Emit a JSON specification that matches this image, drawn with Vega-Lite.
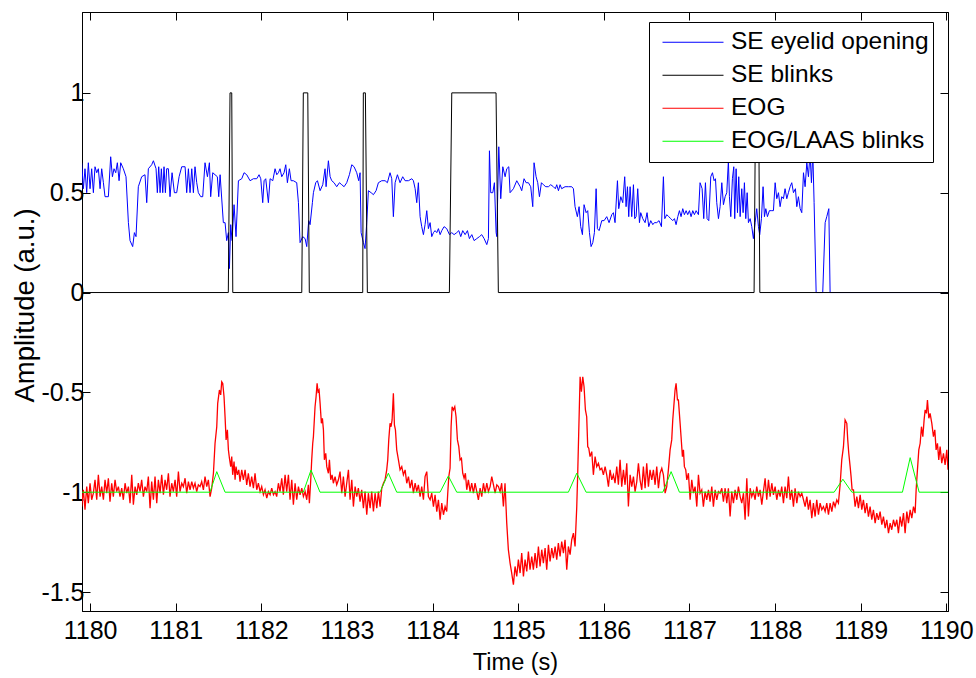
{
"$schema":"https://vega.github.io/schema/vega-lite/v6.json",
"width":866,"height":599,
"autosize":{"type":"none"},
"padding":{"left":82,"top":12,"right":28,"bottom":67},
"background":"white",
"config":{
"view":{"stroke":"black","strokeWidth":1},
"font":"Liberation Sans",
"axis":{"grid":false,"domainColor":"black","tickColor":"black","labelColor":"black","titleColor":"black","labelFont":"Liberation Sans","titleFont":"Liberation Sans","labelFontSize":25,"titleFontSize":24,"titleFontWeight":"normal","tickSize":-8,"tickWidth":1,"domainWidth":1,"labelFlush":false,"labelOverlap":false}
},
"datasets":{
"blue":[{"t":1179.901,"v":0.65},{"t":1179.921,"v":0.52},{"t":1179.94,"v":0.62},{"t":1179.96,"v":0.5},{"t":1179.979,"v":0.65},{"t":1179.999,"v":0.52},{"t":1180.018,"v":0.62},{"t":1180.038,"v":0.5},{"t":1180.057,"v":0.63},{"t":1180.077,"v":0.6},{"t":1180.096,"v":0.62},{"t":1180.116,"v":0.52},{"t":1180.135,"v":0.62},{"t":1180.155,"v":0.55},{"t":1180.174,"v":0.48},{"t":1180.213,"v":0.48},{"t":1180.24,"v":0.68},{"t":1180.26,"v":0.58},{"t":1180.279,"v":0.62},{"t":1180.299,"v":0.6},{"t":1180.318,"v":0.65},{"t":1180.338,"v":0.56},{"t":1180.357,"v":0.65},{"t":1180.388,"v":0.62},{"t":1180.419,"v":0.58},{"t":1180.447,"v":0.35},{"t":1180.466,"v":0.26},{"t":1180.497,"v":0.23},{"t":1180.517,"v":0.3},{"t":1180.536,"v":0.28},{"t":1180.563,"v":0.53},{"t":1180.602,"v":0.58},{"t":1180.641,"v":0.59},{"t":1180.661,"v":0.45},{"t":1180.68,"v":0.62},{"t":1180.719,"v":0.64},{"t":1180.739,"v":0.66},{"t":1180.77,"v":0.62},{"t":1180.785,"v":0.5},{"t":1180.801,"v":0.63},{"t":1180.817,"v":0.5},{"t":1180.832,"v":0.62},{"t":1180.848,"v":0.5},{"t":1180.863,"v":0.63},{"t":1180.879,"v":0.5},{"t":1180.894,"v":0.62},{"t":1180.914,"v":0.62},{"t":1180.933,"v":0.48},{"t":1180.957,"v":0.6},{"t":1180.984,"v":0.5},{"t":1181.011,"v":0.5},{"t":1181.039,"v":0.58},{"t":1181.07,"v":0.63},{"t":1181.109,"v":0.63},{"t":1181.128,"v":0.5},{"t":1181.148,"v":0.62},{"t":1181.167,"v":0.5},{"t":1181.187,"v":0.62},{"t":1181.206,"v":0.5},{"t":1181.225,"v":0.63},{"t":1181.245,"v":0.55},{"t":1181.264,"v":0.5},{"t":1181.292,"v":0.48},{"t":1181.315,"v":0.48},{"t":1181.342,"v":0.65},{"t":1181.37,"v":0.58},{"t":1181.393,"v":0.65},{"t":1181.408,"v":0.48},{"t":1181.432,"v":0.6},{"t":1181.459,"v":0.59},{"t":1181.486,"v":0.58},{"t":1181.502,"v":0.48},{"t":1181.518,"v":0.59},{"t":1181.556,"v":0.35},{"t":1181.576,"v":0.35},{"t":1181.595,"v":0.26},{"t":1181.615,"v":0.3},{"t":1181.627,"v":0.12},{"t":1181.642,"v":0.34},{"t":1181.658,"v":0.26},{"t":1181.681,"v":0.44},{"t":1181.704,"v":0.28},{"t":1181.732,"v":0.56},{"t":1181.771,"v":0.57},{"t":1181.798,"v":0.6},{"t":1181.829,"v":0.59},{"t":1181.868,"v":0.56},{"t":1181.907,"v":0.57},{"t":1181.946,"v":0.57},{"t":1181.973,"v":0.59},{"t":1181.993,"v":0.57},{"t":1182.016,"v":0.45},{"t":1182.032,"v":0.56},{"t":1182.051,"v":0.57},{"t":1182.082,"v":0.45},{"t":1182.102,"v":0.57},{"t":1182.133,"v":0.56},{"t":1182.16,"v":0.62},{"t":1182.18,"v":0.59},{"t":1182.199,"v":0.6},{"t":1182.218,"v":0.62},{"t":1182.238,"v":0.58},{"t":1182.265,"v":0.6},{"t":1182.285,"v":0.64},{"t":1182.304,"v":0.55},{"t":1182.327,"v":0.62},{"t":1182.347,"v":0.56},{"t":1182.374,"v":0.56},{"t":1182.413,"v":0.55},{"t":1182.433,"v":0.45},{"t":1182.452,"v":0.25},{"t":1182.483,"v":0.28},{"t":1182.511,"v":0.27},{"t":1182.53,"v":0.23},{"t":1182.553,"v":0.36},{"t":1182.569,"v":0.34},{"t":1182.596,"v":0.45},{"t":1182.608,"v":0.5},{"t":1182.635,"v":0.55},{"t":1182.655,"v":0.56},{"t":1182.686,"v":0.51},{"t":1182.717,"v":0.54},{"t":1182.744,"v":0.62},{"t":1182.756,"v":0.53},{"t":1182.783,"v":0.66},{"t":1182.803,"v":0.58},{"t":1182.822,"v":0.56},{"t":1182.849,"v":0.55},{"t":1182.88,"v":0.53},{"t":1182.912,"v":0.55},{"t":1182.939,"v":0.54},{"t":1182.966,"v":0.53},{"t":1182.997,"v":0.55},{"t":1183.028,"v":0.59},{"t":1183.056,"v":0.64},{"t":1183.083,"v":0.63},{"t":1183.114,"v":0.6},{"t":1183.137,"v":0.56},{"t":1183.153,"v":0.6},{"t":1183.165,"v":0.3},{"t":1183.192,"v":0.25},{"t":1183.211,"v":0.22},{"t":1183.231,"v":0.35},{"t":1183.25,"v":0.51},{"t":1183.282,"v":0.5},{"t":1183.309,"v":0.49},{"t":1183.34,"v":0.51},{"t":1183.367,"v":0.55},{"t":1183.406,"v":0.56},{"t":1183.445,"v":0.56},{"t":1183.472,"v":0.55},{"t":1183.503,"v":0.6},{"t":1183.523,"v":0.57},{"t":1183.542,"v":0.38},{"t":1183.562,"v":0.55},{"t":1183.589,"v":0.59},{"t":1183.62,"v":0.55},{"t":1183.651,"v":0.58},{"t":1183.679,"v":0.56},{"t":1183.718,"v":0.56},{"t":1183.757,"v":0.57},{"t":1183.776,"v":0.56},{"t":1183.796,"v":0.52},{"t":1183.815,"v":0.45},{"t":1183.834,"v":0.55},{"t":1183.854,"v":0.38},{"t":1183.873,"v":0.33},{"t":1183.893,"v":0.29},{"t":1183.912,"v":0.34},{"t":1183.932,"v":0.41},{"t":1183.951,"v":0.32},{"t":1183.971,"v":0.35},{"t":1183.99,"v":0.28},{"t":1184.01,"v":0.3},{"t":1184.029,"v":0.31},{"t":1184.049,"v":0.3},{"t":1184.068,"v":0.32},{"t":1184.088,"v":0.29},{"t":1184.107,"v":0.31},{"t":1184.134,"v":0.33},{"t":1184.165,"v":0.32},{"t":1184.197,"v":0.29},{"t":1184.224,"v":0.3},{"t":1184.251,"v":0.29},{"t":1184.282,"v":0.3},{"t":1184.306,"v":0.31},{"t":1184.329,"v":0.28},{"t":1184.352,"v":0.31},{"t":1184.38,"v":0.29},{"t":1184.407,"v":0.31},{"t":1184.43,"v":0.27},{"t":1184.458,"v":0.29},{"t":1184.485,"v":0.26},{"t":1184.516,"v":0.27},{"t":1184.547,"v":0.28},{"t":1184.574,"v":0.29},{"t":1184.602,"v":0.27},{"t":1184.633,"v":0.24},{"t":1184.652,"v":0.27},{"t":1184.664,"v":0.71},{"t":1184.679,"v":0.5},{"t":1184.703,"v":0.5},{"t":1184.722,"v":0.55},{"t":1184.742,"v":0.3},{"t":1184.75,"v":0.28},{"t":1184.773,"v":0.73},{"t":1184.796,"v":0.47},{"t":1184.82,"v":0.63},{"t":1184.847,"v":0.58},{"t":1184.866,"v":0.62},{"t":1184.89,"v":0.63},{"t":1184.905,"v":0.5},{"t":1184.944,"v":0.52},{"t":1184.983,"v":0.56},{"t":1185.022,"v":0.53},{"t":1185.041,"v":0.51},{"t":1185.068,"v":0.57},{"t":1185.092,"v":0.55},{"t":1185.119,"v":0.55},{"t":1185.146,"v":0.53},{"t":1185.17,"v":0.43},{"t":1185.185,"v":0.65},{"t":1185.209,"v":0.58},{"t":1185.228,"v":0.55},{"t":1185.248,"v":0.48},{"t":1185.271,"v":0.55},{"t":1185.294,"v":0.54},{"t":1185.322,"v":0.53},{"t":1185.353,"v":0.53},{"t":1185.38,"v":0.54},{"t":1185.411,"v":0.53},{"t":1185.434,"v":0.52},{"t":1185.45,"v":0.54},{"t":1185.47,"v":0.51},{"t":1185.489,"v":0.54},{"t":1185.508,"v":0.52},{"t":1185.547,"v":0.53},{"t":1185.586,"v":0.53},{"t":1185.625,"v":0.53},{"t":1185.645,"v":0.52},{"t":1185.664,"v":0.43},{"t":1185.691,"v":0.38},{"t":1185.711,"v":0.43},{"t":1185.73,"v":0.33},{"t":1185.75,"v":0.29},{"t":1185.769,"v":0.44},{"t":1185.793,"v":0.4},{"t":1185.812,"v":0.41},{"t":1185.832,"v":0.3},{"t":1185.851,"v":0.23},{"t":1185.871,"v":0.25},{"t":1185.89,"v":0.3},{"t":1185.91,"v":0.52},{"t":1185.925,"v":0.32},{"t":1185.945,"v":0.31},{"t":1185.976,"v":0.36},{"t":1186.003,"v":0.36},{"t":1186.034,"v":0.38},{"t":1186.061,"v":0.35},{"t":1186.093,"v":0.39},{"t":1186.112,"v":0.4},{"t":1186.131,"v":0.35},{"t":1186.159,"v":0.56},{"t":1186.174,"v":0.42},{"t":1186.198,"v":0.48},{"t":1186.221,"v":0.45},{"t":1186.244,"v":0.58},{"t":1186.26,"v":0.43},{"t":1186.276,"v":0.53},{"t":1186.291,"v":0.38},{"t":1186.307,"v":0.53},{"t":1186.326,"v":0.38},{"t":1186.346,"v":0.54},{"t":1186.361,"v":0.37},{"t":1186.377,"v":0.38},{"t":1186.396,"v":0.52},{"t":1186.416,"v":0.35},{"t":1186.431,"v":0.4},{"t":1186.455,"v":0.37},{"t":1186.482,"v":0.35},{"t":1186.505,"v":0.4},{"t":1186.525,"v":0.33},{"t":1186.548,"v":0.36},{"t":1186.572,"v":0.34},{"t":1186.591,"v":0.35},{"t":1186.618,"v":0.35},{"t":1186.645,"v":0.36},{"t":1186.673,"v":0.33},{"t":1186.696,"v":0.58},{"t":1186.712,"v":0.37},{"t":1186.735,"v":0.39},{"t":1186.758,"v":0.38},{"t":1186.782,"v":0.37},{"t":1186.805,"v":0.36},{"t":1186.825,"v":0.37},{"t":1186.844,"v":0.34},{"t":1186.864,"v":0.38},{"t":1186.883,"v":0.41},{"t":1186.902,"v":0.38},{"t":1186.922,"v":0.42},{"t":1186.941,"v":0.39},{"t":1186.961,"v":0.41},{"t":1186.98,"v":0.39},{"t":1187.0,"v":0.41},{"t":1187.019,"v":0.38},{"t":1187.039,"v":0.41},{"t":1187.058,"v":0.39},{"t":1187.078,"v":0.41},{"t":1187.105,"v":0.39},{"t":1187.124,"v":0.55},{"t":1187.148,"v":0.52},{"t":1187.167,"v":0.37},{"t":1187.187,"v":0.55},{"t":1187.206,"v":0.37},{"t":1187.226,"v":0.36},{"t":1187.249,"v":0.58},{"t":1187.269,"v":0.6},{"t":1187.288,"v":0.56},{"t":1187.304,"v":0.57},{"t":1187.319,"v":0.45},{"t":1187.339,"v":0.37},{"t":1187.358,"v":0.43},{"t":1187.378,"v":0.55},{"t":1187.397,"v":0.44},{"t":1187.417,"v":0.48},{"t":1187.436,"v":0.5},{"t":1187.455,"v":0.66},{"t":1187.467,"v":0.48},{"t":1187.483,"v":0.38},{"t":1187.502,"v":0.57},{"t":1187.518,"v":0.63},{"t":1187.529,"v":0.37},{"t":1187.545,"v":0.62},{"t":1187.561,"v":0.4},{"t":1187.576,"v":0.58},{"t":1187.592,"v":0.38},{"t":1187.611,"v":0.52},{"t":1187.627,"v":0.4},{"t":1187.642,"v":0.55},{"t":1187.658,"v":0.37},{"t":1187.674,"v":0.5},{"t":1187.689,"v":0.35},{"t":1187.709,"v":0.37},{"t":1187.728,"v":0.33},{"t":1187.747,"v":0.27},{"t":1187.767,"v":0.35},{"t":1187.786,"v":0.42},{"t":1187.806,"v":0.33},{"t":1187.821,"v":0.29},{"t":1187.841,"v":0.37},{"t":1187.86,"v":0.53},{"t":1187.876,"v":0.38},{"t":1187.892,"v":0.42},{"t":1187.911,"v":0.38},{"t":1187.934,"v":0.41},{"t":1187.962,"v":0.41},{"t":1187.981,"v":0.41},{"t":1188.001,"v":0.55},{"t":1188.02,"v":0.47},{"t":1188.04,"v":0.5},{"t":1188.059,"v":0.43},{"t":1188.078,"v":0.48},{"t":1188.098,"v":0.47},{"t":1188.117,"v":0.52},{"t":1188.137,"v":0.47},{"t":1188.156,"v":0.5},{"t":1188.176,"v":0.53},{"t":1188.195,"v":0.55},{"t":1188.215,"v":0.5},{"t":1188.238,"v":0.52},{"t":1188.254,"v":0.43},{"t":1188.273,"v":0.48},{"t":1188.293,"v":0.42},{"t":1188.312,"v":0.4},{"t":1188.332,"v":0.6},{"t":1188.351,"v":0.53},{"t":1188.371,"v":0.65},{"t":1188.39,"v":0.58},{"t":1188.409,"v":0.7},{"t":1188.425,"v":0.55},{"t":1188.441,"v":0.7},{"t":1188.456,"v":0.45},{"t":1188.48,"v":0},{"t":1188.557,"v":0},{"t":1188.585,"v":0.35},{"t":1188.604,"v":0.38},{"t":1188.628,"v":0.42},{"t":1188.643,"v":0},{"t":1190.02,"v":0}],
"black":[{"t":1179.905,"v":0},{"t":1181.614,"v":0},{"t":1181.634,"v":1},{"t":1181.654,"v":1},{"t":1181.666,"v":0},{"t":1182.472,"v":0},{"t":1182.49,"v":1},{"t":1182.542,"v":1},{"t":1182.56,"v":0},{"t":1183.184,"v":0},{"t":1183.191,"v":1},{"t":1183.215,"v":1},{"t":1183.238,"v":0},{"t":1184.196,"v":0},{"t":1184.224,"v":1},{"t":1184.741,"v":1},{"t":1184.768,"v":0},{"t":1187.755,"v":0},{"t":1187.773,"v":1},{"t":1187.808,"v":1},{"t":1187.822,"v":0},{"t":1190.02,"v":0}],
"red":[{"t":1179.901,"v":-1.072},{"t":1179.921,"v":-0.988},{"t":1179.94,"v":-1.088},{"t":1179.96,"v":-0.972},{"t":1179.979,"v":-1.055},{"t":1179.999,"v":-0.955},{"t":1180.018,"v":-1.038},{"t":1180.038,"v":-1.005},{"t":1180.057,"v":-0.938},{"t":1180.077,"v":-1.038},{"t":1180.096,"v":-0.913},{"t":1180.116,"v":-1.022},{"t":1180.135,"v":-0.972},{"t":1180.155,"v":-1.038},{"t":1180.174,"v":-0.938},{"t":1180.194,"v":-1.005},{"t":1180.213,"v":-0.93},{"t":1180.232,"v":-1.047},{"t":1180.252,"v":-0.955},{"t":1180.271,"v":-1.022},{"t":1180.291,"v":-0.938},{"t":1180.31,"v":-0.997},{"t":1180.33,"v":-0.972},{"t":1180.349,"v":-1.022},{"t":1180.369,"v":-0.98},{"t":1180.388,"v":-1.038},{"t":1180.408,"v":-0.955},{"t":1180.427,"v":-1.005},{"t":1180.447,"v":-0.972},{"t":1180.466,"v":-1.055},{"t":1180.486,"v":-0.913},{"t":1180.505,"v":-1.063},{"t":1180.525,"v":-0.972},{"t":1180.544,"v":-1.013},{"t":1180.563,"v":-0.955},{"t":1180.583,"v":-0.997},{"t":1180.602,"v":-0.938},{"t":1180.622,"v":-1.022},{"t":1180.641,"v":-0.972},{"t":1180.661,"v":-0.997},{"t":1180.68,"v":-0.922},{"t":1180.7,"v":-1.08},{"t":1180.719,"v":-0.947},{"t":1180.739,"v":-1.038},{"t":1180.758,"v":-0.922},{"t":1180.778,"v":-1.055},{"t":1180.797,"v":-0.938},{"t":1180.817,"v":-1.005},{"t":1180.836,"v":-0.913},{"t":1180.856,"v":-1.013},{"t":1180.875,"v":-0.938},{"t":1180.894,"v":-0.988},{"t":1180.914,"v":-0.905},{"t":1180.933,"v":-1.022},{"t":1180.953,"v":-0.955},{"t":1180.972,"v":-0.997},{"t":1180.992,"v":-0.938},{"t":1181.011,"v":-1.022},{"t":1181.031,"v":-0.897},{"t":1181.05,"v":-0.997},{"t":1181.07,"v":-0.955},{"t":1181.089,"v":-0.972},{"t":1181.109,"v":-0.93},{"t":1181.128,"v":-1.005},{"t":1181.148,"v":-0.947},{"t":1181.167,"v":-0.988},{"t":1181.187,"v":-0.947},{"t":1181.206,"v":-0.98},{"t":1181.225,"v":-0.955},{"t":1181.245,"v":-0.997},{"t":1181.264,"v":-0.963},{"t":1181.284,"v":-0.972},{"t":1181.303,"v":-0.947},{"t":1181.323,"v":-0.988},{"t":1181.342,"v":-0.922},{"t":1181.362,"v":-0.972},{"t":1181.381,"v":-0.938},{"t":1181.401,"v":-1.022},{"t":1181.42,"v":-0.98},{"t":1181.44,"v":-0.905},{"t":1181.459,"v":-0.755},{"t":1181.479,"v":-0.672},{"t":1181.49,"v":-0.555},{"t":1181.51,"v":-0.488},{"t":1181.525,"v":-0.513},{"t":1181.537,"v":-0.447},{"t":1181.549,"v":-0.455},{"t":1181.564,"v":-0.522},{"t":1181.576,"v":-0.622},{"t":1181.588,"v":-0.738},{"t":1181.603,"v":-0.688},{"t":1181.615,"v":-0.788},{"t":1181.627,"v":-0.83},{"t":1181.642,"v":-0.872},{"t":1181.654,"v":-0.822},{"t":1181.665,"v":-0.913},{"t":1181.681,"v":-0.847},{"t":1181.693,"v":-0.938},{"t":1181.704,"v":-0.872},{"t":1181.72,"v":-0.913},{"t":1181.736,"v":-0.888},{"t":1181.751,"v":-0.947},{"t":1181.771,"v":-0.888},{"t":1181.79,"v":-0.938},{"t":1181.81,"v":-0.888},{"t":1181.829,"v":-0.963},{"t":1181.848,"v":-0.905},{"t":1181.868,"v":-0.972},{"t":1181.887,"v":-0.922},{"t":1181.907,"v":-0.98},{"t":1181.926,"v":-0.905},{"t":1181.946,"v":-0.988},{"t":1181.965,"v":-0.955},{"t":1181.985,"v":-0.997},{"t":1182.004,"v":-0.972},{"t":1182.024,"v":-1.013},{"t":1182.043,"v":-0.988},{"t":1182.063,"v":-1.03},{"t":1182.082,"v":-0.997},{"t":1182.102,"v":-1.013},{"t":1182.121,"v":-0.98},{"t":1182.141,"v":-1.013},{"t":1182.16,"v":-0.997},{"t":1182.179,"v":-1.022},{"t":1182.199,"v":-0.955},{"t":1182.218,"v":-0.997},{"t":1182.238,"v":-0.93},{"t":1182.257,"v":-1.013},{"t":1182.277,"v":-0.913},{"t":1182.296,"v":-0.997},{"t":1182.316,"v":-0.913},{"t":1182.335,"v":-1.038},{"t":1182.355,"v":-0.938},{"t":1182.374,"v":-1.063},{"t":1182.394,"v":-0.955},{"t":1182.413,"v":-1.038},{"t":1182.433,"v":-0.972},{"t":1182.452,"v":-1.013},{"t":1182.472,"v":-0.98},{"t":1182.491,"v":-1.022},{"t":1182.511,"v":-0.997},{"t":1182.53,"v":-1.038},{"t":1182.549,"v":-0.963},{"t":1182.561,"v":-1.055},{"t":1182.577,"v":-0.938},{"t":1182.588,"v":-0.838},{"t":1182.6,"v":-0.755},{"t":1182.608,"v":-0.722},{"t":1182.627,"v":-0.572},{"t":1182.639,"v":-0.522},{"t":1182.651,"v":-0.455},{"t":1182.662,"v":-0.497},{"t":1182.674,"v":-0.488},{"t":1182.686,"v":-0.555},{"t":1182.701,"v":-0.655},{"t":1182.713,"v":-0.63},{"t":1182.725,"v":-0.688},{"t":1182.736,"v":-0.838},{"t":1182.752,"v":-0.805},{"t":1182.764,"v":-0.872},{"t":1182.783,"v":-0.905},{"t":1182.795,"v":-0.838},{"t":1182.81,"v":-0.938},{"t":1182.826,"v":-0.913},{"t":1182.841,"v":-0.955},{"t":1182.861,"v":-0.922},{"t":1182.88,"v":-0.963},{"t":1182.9,"v":-0.938},{"t":1182.919,"v":-0.897},{"t":1182.939,"v":-1.005},{"t":1182.958,"v":-0.922},{"t":1182.978,"v":-1.022},{"t":1182.997,"v":-0.955},{"t":1183.017,"v":-0.888},{"t":1183.036,"v":-1.038},{"t":1183.056,"v":-0.938},{"t":1183.075,"v":-1.072},{"t":1183.095,"v":-0.972},{"t":1183.114,"v":-1.022},{"t":1183.133,"v":-0.98},{"t":1183.153,"v":-1.047},{"t":1183.172,"v":-0.988},{"t":1183.192,"v":-1.08},{"t":1183.211,"v":-0.997},{"t":1183.231,"v":-1.113},{"t":1183.25,"v":-1.005},{"t":1183.27,"v":-1.08},{"t":1183.289,"v":-0.997},{"t":1183.309,"v":-1.097},{"t":1183.328,"v":-1.005},{"t":1183.348,"v":-1.08},{"t":1183.367,"v":-0.997},{"t":1183.387,"v":-1.072},{"t":1183.406,"v":-0.98},{"t":1183.426,"v":-0.955},{"t":1183.445,"v":-0.938},{"t":1183.464,"v":-0.888},{"t":1183.476,"v":-0.838},{"t":1183.488,"v":-0.738},{"t":1183.503,"v":-0.655},{"t":1183.515,"v":-0.672},{"t":1183.527,"v":-0.638},{"t":1183.542,"v":-0.505},{"t":1183.554,"v":-0.663},{"t":1183.566,"v":-0.688},{"t":1183.581,"v":-0.788},{"t":1183.601,"v":-0.838},{"t":1183.62,"v":-0.888},{"t":1183.64,"v":-0.872},{"t":1183.659,"v":-0.913},{"t":1183.679,"v":-0.888},{"t":1183.698,"v":-0.955},{"t":1183.718,"v":-0.922},{"t":1183.737,"v":-0.98},{"t":1183.757,"v":-0.938},{"t":1183.776,"v":-1.005},{"t":1183.796,"v":-0.955},{"t":1183.815,"v":-0.997},{"t":1183.834,"v":-0.963},{"t":1183.854,"v":-1.022},{"t":1183.873,"v":-0.972},{"t":1183.893,"v":-1.038},{"t":1183.912,"v":-0.922},{"t":1183.932,"v":-0.897},{"t":1183.951,"v":-1.022},{"t":1183.971,"v":-1.038},{"t":1183.99,"v":-1.005},{"t":1184.01,"v":-1.072},{"t":1184.029,"v":-1.013},{"t":1184.049,"v":-1.097},{"t":1184.068,"v":-1.038},{"t":1184.088,"v":-1.138},{"t":1184.107,"v":-1.055},{"t":1184.127,"v":-1.113},{"t":1184.146,"v":-1.072},{"t":1184.165,"v":-1.097},{"t":1184.177,"v":-1.005},{"t":1184.189,"v":-0.922},{"t":1184.204,"v":-0.88},{"t":1184.216,"v":-0.672},{"t":1184.228,"v":-0.572},{"t":1184.243,"v":-0.588},{"t":1184.259,"v":-0.572},{"t":1184.274,"v":-0.622},{"t":1184.29,"v":-0.738},{"t":1184.306,"v":-0.772},{"t":1184.321,"v":-0.838},{"t":1184.337,"v":-0.83},{"t":1184.352,"v":-0.905},{"t":1184.368,"v":-0.93},{"t":1184.383,"v":-0.905},{"t":1184.399,"v":-0.988},{"t":1184.418,"v":-0.938},{"t":1184.438,"v":-0.997},{"t":1184.457,"v":-0.955},{"t":1184.477,"v":-1.005},{"t":1184.496,"v":-0.955},{"t":1184.516,"v":-0.997},{"t":1184.535,"v":-1.038},{"t":1184.555,"v":-0.98},{"t":1184.574,"v":-1.022},{"t":1184.594,"v":-0.955},{"t":1184.613,"v":-1.005},{"t":1184.633,"v":-0.955},{"t":1184.652,"v":-0.997},{"t":1184.672,"v":-0.972},{"t":1184.691,"v":-0.922},{"t":1184.711,"v":-0.963},{"t":1184.73,"v":-1.005},{"t":1184.75,"v":-0.963},{"t":1184.769,"v":-0.972},{"t":1184.788,"v":-0.997},{"t":1184.807,"v":-0.955},{"t":1184.827,"v":-1.072},{"t":1184.846,"v":-0.955},{"t":1184.866,"v":-1.155},{"t":1184.885,"v":-1.288},{"t":1184.905,"v":-1.355},{"t":1184.924,"v":-1.405},{"t":1184.944,"v":-1.463},{"t":1184.963,"v":-1.372},{"t":1184.983,"v":-1.422},{"t":1185.002,"v":-1.338},{"t":1185.022,"v":-1.405},{"t":1185.041,"v":-1.305},{"t":1185.061,"v":-1.422},{"t":1185.08,"v":-1.338},{"t":1185.1,"v":-1.397},{"t":1185.119,"v":-1.297},{"t":1185.138,"v":-1.388},{"t":1185.158,"v":-1.322},{"t":1185.177,"v":-1.388},{"t":1185.197,"v":-1.305},{"t":1185.216,"v":-1.38},{"t":1185.236,"v":-1.272},{"t":1185.255,"v":-1.372},{"t":1185.275,"v":-1.288},{"t":1185.294,"v":-1.355},{"t":1185.314,"v":-1.28},{"t":1185.333,"v":-1.388},{"t":1185.353,"v":-1.263},{"t":1185.372,"v":-1.347},{"t":1185.392,"v":-1.28},{"t":1185.411,"v":-1.33},{"t":1185.431,"v":-1.272},{"t":1185.45,"v":-1.338},{"t":1185.469,"v":-1.255},{"t":1185.489,"v":-1.322},{"t":1185.508,"v":-1.247},{"t":1185.528,"v":-1.305},{"t":1185.547,"v":-1.238},{"t":1185.567,"v":-1.388},{"t":1185.586,"v":-1.272},{"t":1185.606,"v":-1.313},{"t":1185.625,"v":-1.238},{"t":1185.645,"v":-1.205},{"t":1185.664,"v":-1.272},{"t":1185.684,"v":-1.072},{"t":1185.695,"v":-0.905},{"t":1185.707,"v":-0.697},{"t":1185.723,"v":-0.422},{"t":1185.738,"v":-0.497},{"t":1185.754,"v":-0.422},{"t":1185.769,"v":-0.472},{"t":1185.785,"v":-0.588},{"t":1185.8,"v":-0.622},{"t":1185.812,"v":-0.772},{"t":1185.824,"v":-0.78},{"t":1185.839,"v":-0.822},{"t":1185.859,"v":-0.797},{"t":1185.878,"v":-0.913},{"t":1185.898,"v":-0.822},{"t":1185.917,"v":-0.872},{"t":1185.937,"v":-0.855},{"t":1185.956,"v":-0.888},{"t":1185.976,"v":-0.88},{"t":1185.995,"v":-0.913},{"t":1186.015,"v":-0.872},{"t":1186.034,"v":-0.913},{"t":1186.054,"v":-0.972},{"t":1186.073,"v":-0.888},{"t":1186.093,"v":-0.938},{"t":1186.112,"v":-0.913},{"t":1186.131,"v":-0.955},{"t":1186.151,"v":-0.872},{"t":1186.17,"v":-0.963},{"t":1186.19,"v":-0.838},{"t":1186.209,"v":-0.972},{"t":1186.229,"v":-0.888},{"t":1186.248,"v":-0.963},{"t":1186.268,"v":-0.855},{"t":1186.287,"v":-1.072},{"t":1186.307,"v":-0.913},{"t":1186.326,"v":-0.972},{"t":1186.346,"v":-0.922},{"t":1186.365,"v":-0.997},{"t":1186.385,"v":-0.947},{"t":1186.404,"v":-0.855},{"t":1186.423,"v":-0.938},{"t":1186.443,"v":-0.988},{"t":1186.462,"v":-0.872},{"t":1186.482,"v":-0.98},{"t":1186.501,"v":-0.855},{"t":1186.521,"v":-0.972},{"t":1186.54,"v":-0.888},{"t":1186.56,"v":-0.938},{"t":1186.579,"v":-0.888},{"t":1186.599,"v":-0.963},{"t":1186.618,"v":-0.872},{"t":1186.638,"v":-0.98},{"t":1186.657,"v":-0.905},{"t":1186.677,"v":-0.88},{"t":1186.696,"v":-0.913},{"t":1186.716,"v":-1.005},{"t":1186.735,"v":-0.972},{"t":1186.754,"v":-0.888},{"t":1186.774,"v":-0.788},{"t":1186.793,"v":-0.738},{"t":1186.805,"v":-0.638},{"t":1186.817,"v":-0.572},{"t":1186.832,"v":-0.488},{"t":1186.844,"v":-0.455},{"t":1186.86,"v":-0.538},{"t":1186.871,"v":-0.538},{"t":1186.891,"v":-0.655},{"t":1186.902,"v":-0.722},{"t":1186.918,"v":-0.822},{"t":1186.93,"v":-0.788},{"t":1186.941,"v":-0.872},{"t":1186.957,"v":-0.888},{"t":1186.969,"v":-0.938},{"t":1186.988,"v":-0.905},{"t":1187.008,"v":-1.038},{"t":1187.027,"v":-0.938},{"t":1187.047,"v":-1.005},{"t":1187.066,"v":-0.972},{"t":1187.086,"v":-1.072},{"t":1187.105,"v":-0.913},{"t":1187.124,"v":-1.005},{"t":1187.144,"v":-0.988},{"t":1187.163,"v":-1.072},{"t":1187.183,"v":-0.997},{"t":1187.202,"v":-1.038},{"t":1187.222,"v":-0.988},{"t":1187.241,"v":-1.047},{"t":1187.261,"v":-0.972},{"t":1187.28,"v":-1.072},{"t":1187.3,"v":-0.988},{"t":1187.319,"v":-1.038},{"t":1187.339,"v":-0.997},{"t":1187.358,"v":-1.005},{"t":1187.378,"v":-0.98},{"t":1187.397,"v":-1.047},{"t":1187.417,"v":-0.98},{"t":1187.436,"v":-1.055},{"t":1187.455,"v":-0.98},{"t":1187.475,"v":-1.122},{"t":1187.494,"v":-0.997},{"t":1187.514,"v":-1.055},{"t":1187.533,"v":-0.988},{"t":1187.553,"v":-1.038},{"t":1187.572,"v":-0.972},{"t":1187.592,"v":-1.022},{"t":1187.611,"v":-1.055},{"t":1187.631,"v":-1.005},{"t":1187.65,"v":-1.138},{"t":1187.67,"v":-0.93},{"t":1187.689,"v":-1.122},{"t":1187.709,"v":-0.98},{"t":1187.728,"v":-1.022},{"t":1187.747,"v":-0.997},{"t":1187.767,"v":-1.038},{"t":1187.786,"v":-0.972},{"t":1187.806,"v":-1.022},{"t":1187.825,"v":-0.988},{"t":1187.845,"v":-1.063},{"t":1187.864,"v":-0.997},{"t":1187.884,"v":-0.93},{"t":1187.903,"v":-1.038},{"t":1187.923,"v":-0.938},{"t":1187.942,"v":-1.022},{"t":1187.962,"v":-0.955},{"t":1187.981,"v":-1.013},{"t":1188.001,"v":-0.972},{"t":1188.02,"v":-1.038},{"t":1188.04,"v":-0.988},{"t":1188.059,"v":-1.022},{"t":1188.078,"v":-0.972},{"t":1188.098,"v":-1.055},{"t":1188.117,"v":-0.972},{"t":1188.137,"v":-1.03},{"t":1188.156,"v":-0.922},{"t":1188.176,"v":-1.038},{"t":1188.195,"v":-0.988},{"t":1188.215,"v":-1.072},{"t":1188.234,"v":-0.98},{"t":1188.254,"v":-1.055},{"t":1188.273,"v":-0.997},{"t":1188.293,"v":-1.022},{"t":1188.312,"v":-1.005},{"t":1188.332,"v":-1.038},{"t":1188.351,"v":-1.072},{"t":1188.371,"v":-1.022},{"t":1188.39,"v":-1.088},{"t":1188.409,"v":-1.038},{"t":1188.429,"v":-1.13},{"t":1188.448,"v":-1.055},{"t":1188.468,"v":-1.122},{"t":1188.487,"v":-1.038},{"t":1188.507,"v":-1.113},{"t":1188.526,"v":-1.055},{"t":1188.546,"v":-1.088},{"t":1188.565,"v":-1.072},{"t":1188.585,"v":-1.097},{"t":1188.604,"v":-1.055},{"t":1188.624,"v":-1.113},{"t":1188.643,"v":-1.055},{"t":1188.663,"v":-1.097},{"t":1188.682,"v":-1.047},{"t":1188.701,"v":-1.072},{"t":1188.721,"v":-1.038},{"t":1188.74,"v":-1.055},{"t":1188.76,"v":-0.963},{"t":1188.779,"v":-0.838},{"t":1188.799,"v":-0.772},{"t":1188.818,"v":-0.638},{"t":1188.838,"v":-0.655},{"t":1188.849,"v":-0.738},{"t":1188.861,"v":-0.805},{"t":1188.877,"v":-0.872},{"t":1188.888,"v":-0.922},{"t":1188.9,"v":-0.988},{"t":1188.916,"v":-0.988},{"t":1188.935,"v":-1.072},{"t":1188.955,"v":-1.022},{"t":1188.974,"v":-1.08},{"t":1188.994,"v":-1.013},{"t":1189.013,"v":-1.088},{"t":1189.032,"v":-1.038},{"t":1189.052,"v":-1.105},{"t":1189.071,"v":-1.055},{"t":1189.091,"v":-1.122},{"t":1189.11,"v":-1.072},{"t":1189.13,"v":-1.138},{"t":1189.149,"v":-1.088},{"t":1189.169,"v":-1.155},{"t":1189.188,"v":-1.105},{"t":1189.208,"v":-1.138},{"t":1189.227,"v":-1.097},{"t":1189.247,"v":-1.163},{"t":1189.266,"v":-1.122},{"t":1189.286,"v":-1.18},{"t":1189.305,"v":-1.138},{"t":1189.325,"v":-1.205},{"t":1189.344,"v":-1.155},{"t":1189.363,"v":-1.188},{"t":1189.383,"v":-1.138},{"t":1189.402,"v":-1.172},{"t":1189.422,"v":-1.138},{"t":1189.441,"v":-1.205},{"t":1189.461,"v":-1.122},{"t":1189.48,"v":-1.172},{"t":1189.5,"v":-1.105},{"t":1189.519,"v":-1.205},{"t":1189.539,"v":-1.097},{"t":1189.558,"v":-1.155},{"t":1189.578,"v":-1.088},{"t":1189.597,"v":-1.13},{"t":1189.617,"v":-1.072},{"t":1189.636,"v":-1.105},{"t":1189.648,"v":-0.988},{"t":1189.663,"v":-0.888},{"t":1189.679,"v":-0.788},{"t":1189.695,"v":-0.755},{"t":1189.71,"v":-0.672},{"t":1189.726,"v":-0.722},{"t":1189.741,"v":-0.638},{"t":1189.753,"v":-0.588},{"t":1189.768,"v":-0.605},{"t":1189.78,"v":-0.538},{"t":1189.796,"v":-0.63},{"t":1189.811,"v":-0.605},{"t":1189.831,"v":-0.655},{"t":1189.85,"v":-0.722},{"t":1189.866,"v":-0.688},{"t":1189.881,"v":-0.788},{"t":1189.897,"v":-0.755},{"t":1189.912,"v":-0.838},{"t":1189.928,"v":-0.772},{"t":1189.947,"v":-0.855},{"t":1189.967,"v":-0.805},{"t":1189.986,"v":-0.863},{"t":1190.006,"v":-0.788},{"t":1190.02,"v":-0.888}],
"green":[{"t":1179.905,"v":-1},{"t":1181.4,"v":-1},{"t":1181.479,"v":-0.897},{"t":1181.576,"v":-1},{"t":1182.49,"v":-1},{"t":1182.58,"v":-0.889},{"t":1182.685,"v":-1},{"t":1183.386,"v":-1},{"t":1183.483,"v":-0.905},{"t":1183.581,"v":-1},{"t":1184.087,"v":-1},{"t":1184.184,"v":-0.919},{"t":1184.282,"v":-1},{"t":1185.586,"v":-1},{"t":1185.684,"v":-0.905},{"t":1185.793,"v":-1},{"t":1186.689,"v":-1},{"t":1186.786,"v":-0.897},{"t":1186.883,"v":-1},{"t":1188.69,"v":-1},{"t":1188.792,"v":-0.935},{"t":1188.897,"v":-1},{"t":1189.488,"v":-1},{"t":1189.578,"v":-0.827},{"t":1189.683,"v":-1},{"t":1190.02,"v":-1}]
},
"layer":[
{"data":{"name":"blue"},"mark":{"type":"line","strokeWidth":1,"clip":true},
"encoding":{
"x":{"field":"t","type":"quantitative","scale":{"domain":[1179.905,1190.02],"nice":false,"zero":false},
"axis":{"orient":"bottom","values":[1180,1181,1182,1183,1184,1185,1186,1187,1188,1189,1190],"labelExpr":"datum.value + ''","labelPadding":15,"labelBaseline":"top","title":"Time (s)","titleFontSize":23.5,"titleBaseline":"alphabetic","titleY":58}},
"y":{"field":"v","type":"quantitative","scale":{"domain":[-1.595,1.405],"nice":false,"zero":false},
"axis":{"orient":"left","values":[-1.5,-1,-0.5,0,0.5,1],"labelExpr":"datum.value + ''","labelPadding":6,"title":"Amplitude (a.u.)","titleFontSize":27.5,"titleX":-49,"titleY":293,"titleBaseline":"alphabetic"}},
"color":{"datum":"SE eyelid opening","type":"nominal",
"scale":{"domain":["SE eyelid opening","SE blinks","EOG","EOG/LAAS blinks"],"range":["#0000ff","#000000","#ff0000","#00ff00"]},
"legend":{"orient":"none","legendX":567,"legendY":10,"title":null,"strokeColor":"black","fillColor":"white","padding":4,"symbolType":"stroke","symbolSize":3721,"symbolStrokeWidth":1,"symbolOffset":9,"labelOffset":7,"labelFontSize":24.5,"labelFont":"Liberation Sans","labelColor":"black","clipHeight":32.5,"rowPadding":0,"labelLimit":400,"cornerRadius":0}}
}},
{"data":{"name":"black"},"mark":{"type":"line","strokeWidth":1,"clip":true},
"encoding":{
"x":{"field":"t","type":"quantitative","axis":{"orient":"top","values":[1180,1181,1182,1183,1184,1185,1186,1187,1188,1189,1190],"labels":false,"title":null}},
"y":{"field":"v","type":"quantitative","axis":{"orient":"right","values":[-1.5,-1,-0.5,0,0.5,1],"labels":false,"title":null}},
"color":{"datum":"SE blinks","type":"nominal"}
}},
{"data":{"name":"red"},"mark":{"type":"line","strokeWidth":1.3,"clip":true},
"encoding":{
"x":{"field":"t","type":"quantitative","axis":null},
"y":{"field":"v","type":"quantitative","axis":null},
"color":{"datum":"EOG","type":"nominal"}
}},
{"data":{"name":"green"},"mark":{"type":"line","strokeWidth":1,"clip":true},
"encoding":{
"x":{"field":"t","type":"quantitative","axis":null},
"y":{"field":"v","type":"quantitative","axis":null},
"color":{"datum":"EOG/LAAS blinks","type":"nominal"}
}}
],
"resolve":{"axis":{"x":"independent","y":"independent"}}
}
